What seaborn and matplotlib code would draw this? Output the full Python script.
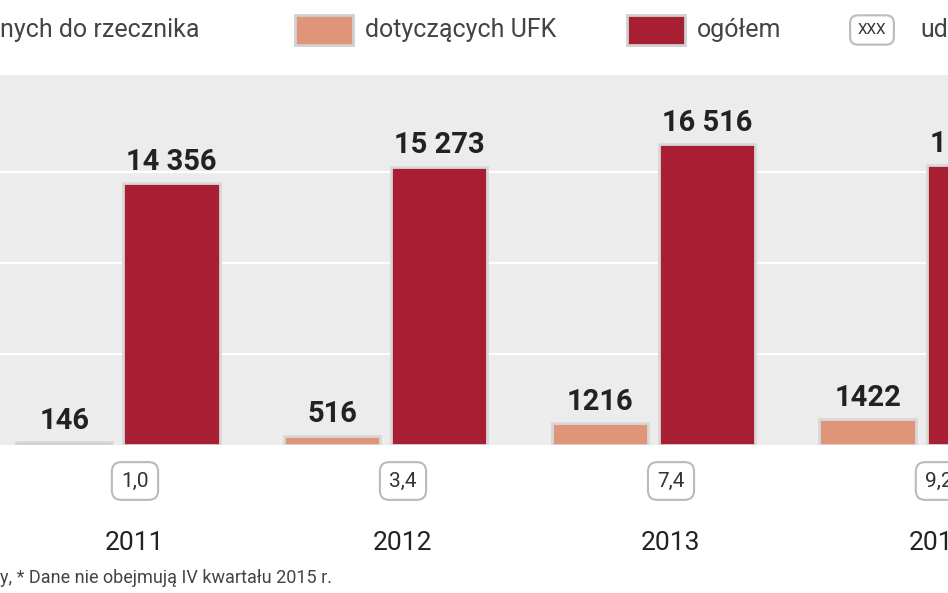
import matplotlib.pyplot as plt
import numpy as np
import pandas as pd
import seaborn as sns

years = ['2011', '2012', '2013', '2014']
ufk = [146, 516, 1216, 1422]
total = [14356, 15273, 16516, 15350]
ufk_labels = ['146', '516', '1216', '1422']
total_labels = ['14 356', '15 273', '16 516', '15 350']
shares = ['1,0', '3,4', '7,4', '9,2']

df = pd.DataFrame({
    'rok': years * 2,
    'typ': ['dotyczących UFK'] * 4 + ['ogółem'] * 4,
    'liczba': ufk + total,
})

sns.set_style('white')
plt.rcParams['font.family'] = ['Roboto', 'DejaVu Sans']
fig = plt.figure(figsize=(9.48, 5.93), dpi=100)
ax = fig.add_axes([0, 148 / 593, 1, 370 / 593])
ax.set_facecolor('#ececec')
sns.barplot(data=df, x='rok', y='liczba', hue='typ', ax=ax,
            palette=['#e0957a', '#a81e32'], saturation=1, width=0.8, gap=0.1,
            edgecolor='#d8d8d8', linewidth=2, legend=False)
ax.set_ylim(0, 20300)
ax.set_xlim(-0.44, 3.1)
ax.set_yticks([5000, 10000, 15000])
ax.yaxis.grid(True, color='white', linewidth=1.5)
ax.set_axisbelow(True)
ax.set_xticks([])
ax.set_yticklabels([])
ax.set_xlabel('')
ax.set_ylabel('')
ax.tick_params(length=0)
for s in ax.spines.values():
    s.set_visible(False)

for i in range(4):
    ax.text(i - 0.2, ufk[i] + 400, ufk_labels[i], ha='center', va='bottom',
            fontsize=21, fontweight='bold', color='#222222')
    ax.text(i + 0.2, total[i] + 400, total_labels[i], ha='center', va='bottom',
            fontsize=21, fontweight='bold', color='#222222')
    xf = (118 + 268 * i + 17) / 948
    fig.text(xf, 1 - 481 / 593, shares[i], ha='center', va='center', fontsize=15,
             color='#333333',
             bbox=dict(boxstyle='round,pad=0.45', fc='white', ec='#bbbbbb', lw=1.5))
    fig.text(xf, 1 - 543 / 593, years[i], ha='center', va='center', fontsize=19,
             color='#222222')

fig.text(0.0, 1 - 578 / 593, 'y, * Dane nie obejmują IV kwartału 2015 r.',
         ha='left', va='center', fontsize=13, color='#444444')

# legenda u góry
fig.text(0.0, 1 - 30 / 593, 'nych do rzecznika', ha='left', va='center',
         fontsize=18, color='#444444')
fig.patches.append(plt.Rectangle((295 / 948, 1 - 45 / 593), 58 / 948, 30 / 593,
                                 transform=fig.transFigure, fc='#e0957a',
                                 ec='#d0d0d0', lw=2))
fig.text(365 / 948, 1 - 30 / 593, 'dotyczących UFK', ha='left', va='center',
         fontsize=18, color='#444444')
fig.patches.append(plt.Rectangle((627 / 948, 1 - 45 / 593), 58 / 948, 30 / 593,
                                 transform=fig.transFigure, fc='#a81e32',
                                 ec='#d0d0d0', lw=2))
fig.text(697 / 948, 1 - 30 / 593, 'ogółem', ha='left', va='center',
         fontsize=18, color='#444444')
fig.text(872 / 948, 1 - 30 / 593, 'XXX', ha='center', va='center', fontsize=11,
         color='#333333',
         bbox=dict(boxstyle='round,pad=0.5', fc='white', ec='#bbbbbb', lw=1.5))
fig.text(920 / 948, 1 - 30 / 593, 'ud', ha='left', va='center',
         fontsize=18, color='#444444')

fig.savefig('out.png', dpi=100)
